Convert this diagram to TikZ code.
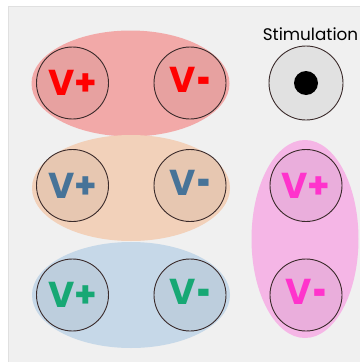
\documentclass[tikz,border=0pt]{standalone}
\usepackage{fontspec}
\usepackage{graphicx}
\setmainfont{Poppins}
\definecolor{bg}{HTML}{F0F0F0}
\definecolor{redfill}{HTML}{F2A9A8}
\definecolor{orangefill}{HTML}{F2D1BA}
\definecolor{bluefill}{HTML}{C6D8E8}
\definecolor{pinkfill}{HTML}{F5B6E6}
\definecolor{tred}{HTML}{FF0000}
\definecolor{tblue}{HTML}{477398}
\definecolor{tgreen}{HTML}{17A874}
\definecolor{tpink}{HTML}{FF33CC}
\definecolor{ring}{HTML}{3A2A2A}
\newcommand{\vminus}{V\kern1.5pt\raisebox{-5.5pt}{\scalebox{0.65}[1.4]{-}}}
\begin{document}
\begin{tikzpicture}[x=1pt,y=-1pt,
  elec/.style={circle, draw=ring, line width=0.9pt, fill=black, fill opacity=0.045, text opacity=1,
    minimum size=72pt, inner sep=0pt, font=\fontsize{36}{36}\selectfont\bfseries},
  ]
\useasboundingbox (0,0) rectangle (360,362);
\fill[white] (0,0) rectangle (360,362);
\fill[bg] (8,6) rectangle (360,362);
\draw[black!12, line width=0.6pt] (8,362) -- (8,6) -- (360,6);
% group ellipses
\fill[redfill] (130.5,83.5) ellipse [x radius=99, y radius=53];
\fill[orangefill] (131,188) ellipse [x radius=99, y radius=53];
\fill[bluefill] (131,295) ellipse [x radius=99, y radius=53];
\fill[pinkfill] (305,239) ellipse [x radius=53.5, y radius=99];
% electrodes
\node[elec, text=tred] (r1) at (72.5,83) {V+};
\node[elec, text=tred] (r2) at (190,83) {\vminus};
\node[elec, text=tblue] (o1) at (72.5,185.5) {V+};
\node[elec, text=tblue] (o2) at (190,185.5) {\vminus};
\node[elec, text=tgreen] (b1) at (72.5,295) {V+};
\node[elec, text=tgreen] (b2) at (190,295) {\vminus};
\node[elec, text=tpink] (p1) at (306,185.5) {V+};
\node[elec, text=tpink] (p2) at (306,295) {\vminus};
\node[elec, minimum size=74pt, fill opacity=0.06] (s) at (306,83) {};
\fill[black] (s.center) circle (12);
\node[font=\fontsize{16.8}{17}\selectfont, inner sep=0pt] (lbl) at (310.5,34) {Stimulation};
\end{tikzpicture}
\end{document}
